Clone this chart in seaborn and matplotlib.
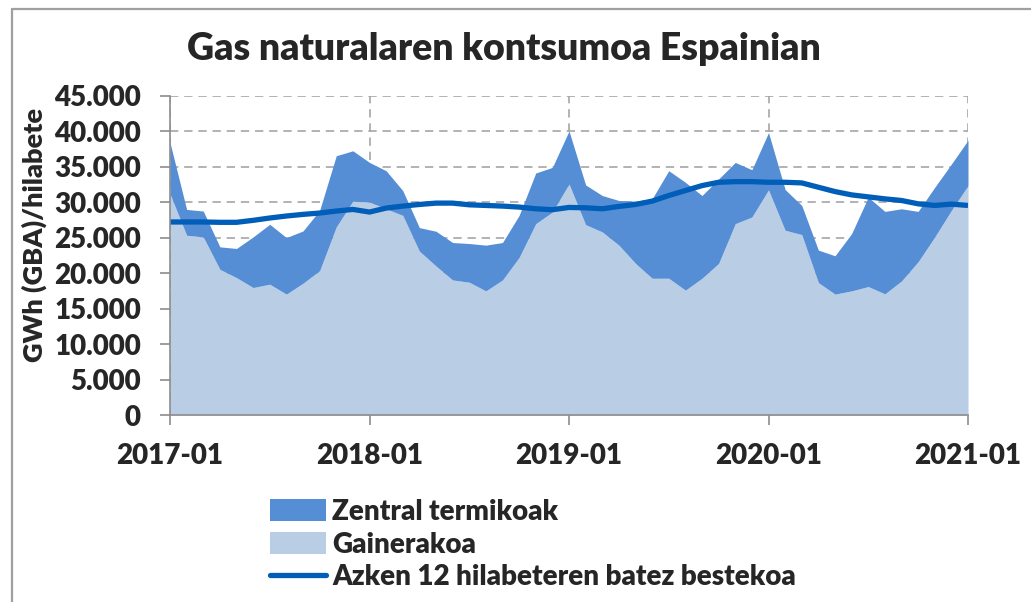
import numpy as np
import pandas as pd
import matplotlib
matplotlib.use("Agg")
import matplotlib.pyplot as plt
import seaborn as sns
from matplotlib.patches import Patch
from matplotlib.lines import Line2D

# ---- data (GWh per month), 2017-01 .. 2021-01 ----
months = pd.date_range("2017-01-01", "2021-01-01", freq="MS").strftime("%Y-%m").tolist()
gainerakoa = [31200, 25360, 25120, 20550, 19380, 17980, 18450, 17050, 18590, 20360, 26530, 30170,
              30030, 29090, 28160, 23120, 21020, 19050, 18730, 17510, 19050, 22230, 26990, 28630,
              32600, 26850, 25830, 23960, 21390, 19290, 19290, 17610, 19290, 21390, 26990, 27930,
              31760, 26060, 25450, 18680, 17050, 17510, 18120, 17090, 18910, 21620, 25120, 28860,
              32360]
termikoak = [7230, 3640, 3650, 3170, 4110, 7140, 8450, 7980, 7370, 8500, 10040, 7100,
             5600, 5370, 3500, 3310, 4900, 5280, 5460, 6450, 5280, 5930, 7150, 6300,
             7470, 5610, 5130, 6300, 8780, 11210, 15170, 15220, 11670, 11910, 8640, 6670,
             8080, 5740, 4110, 4580, 5410, 8080, 12610, 11630, 10180, 7100, 7010, 6540,
             6400]
batezbestekoa = [27230, 27230, 27230, 27180, 27180, 27460, 27790, 28070, 28300, 28490, 28770, 29000,
                 28630, 29190, 29470, 29700, 29890, 29890, 29650, 29560, 29470, 29330, 29090, 28960,
                 29280, 29230, 29090, 29420, 29700, 30170, 30960, 31660, 32360, 32830, 32920, 32920,
                 32830, 32830, 32740, 32130, 31520, 31050, 30770, 30490, 30260, 29790, 29560, 29750,
                 29560]
tick_labels = ["2017-01", "2018-01", "2019-01", "2020-01", "2021-01"]
y_ticks = [0, 5000, 10000, 15000, 20000, 25000, 30000, 35000, 40000, 45000]

title = "Gas naturalaren kontsumoa Espainian"
ylabel = "GWh (GBA)/hilabete"
lbl_term = "Zentral termikoak"
lbl_gain = "Gainerakoa"
lbl_avg = "Azken 12 hilabeteren batez bestekoa"

df = pd.DataFrame({"month": months, "idx": np.arange(len(months)),
                   "gain": gainerakoa, "term": termikoak, "avg": batezbestekoa})
df["total"] = df["gain"] + df["term"]

c_light = "#B9CDE5"
c_dark = "#558ED5"
c_line = "#005EB8"
c_grid = "#A6A6A6"
W = "heavy"

sns.set_theme(style="white")
plt.rcParams["font.family"] = ["Lato", "DejaVu Sans"]
plt.rcParams["font.weight"] = W

fig = plt.figure(figsize=(10.31, 6.02), dpi=100)
ax = fig.add_axes([170/1031, 1-415/602, (968-170)/1031, (415-96)/602])

ax.fill_between(df["idx"], 0, df["gain"], color=c_light, linewidth=0, zorder=2)
ax.fill_between(df["idx"], df["gain"], df["total"], color=c_dark, linewidth=0, zorder=2)
sns.lineplot(data=df, x="idx", y="avg", ax=ax, color=c_line, linewidth=3.8, zorder=3,
             solid_capstyle="butt", legend=False)

ax.set_xlim(0, 48)
ax.set_ylim(0, 45000)
ax.set_xticks([0, 12, 24, 36, 48])
ax.set_xticklabels(tick_labels)
ax.set_yticks(y_ticks)
ax.set_yticklabels([f"{v:,}".replace(",", ".") for v in y_ticks])
ax.set_xlabel("")
ax.set_ylabel(ylabel, fontsize=19.5, fontweight=W)
ax.yaxis.set_label_coords(-0.154, 0.565)
for lab in ax.get_xticklabels() + ax.get_yticklabels():
    lab.set_fontweight(W)
ax.tick_params(axis="both", which="major", labelsize=20, length=7, width=1.2,
               color="#8C8C8C", direction="out", left=True, bottom=True)
ax.tick_params(axis="y", pad=14)
ax.tick_params(axis="x", pad=13)

ax.set_axisbelow(True)
ax.grid(True, axis="both", linestyle=(0, (5, 3.5)), color=c_grid, linewidth=1.2)
for s in ["top", "right"]:
    ax.spines[s].set_visible(False)
for s in ["left", "bottom"]:
    ax.spines[s].set_color("#8C8C8C")
    ax.spines[s].set_linewidth(1.2)
    ax.spines[s].set_zorder(4)

fig.text(0.489, 1-49/602, title, ha="center", va="center", fontsize=26.9, fontweight=W)

handles = [Patch(facecolor=c_dark, edgecolor="none"),
           Patch(facecolor=c_light, edgecolor="none"),
           Line2D([0], [0], color=c_line, linewidth=3.8)]
fig.legend(handles, [lbl_term, lbl_gain, lbl_avg], loc="upper left",
           bbox_to_anchor=(270/1031, 1-499/602), frameon=False, fontsize=20,
           handlelength=2.0, handleheight=0.85, handletextpad=0.25, labelspacing=0.24,
           borderaxespad=0, borderpad=0)

# chart frame (top and left edges visible)
fig.add_artist(Line2D([12/1031, 12/1031], [0, 1-9/602], transform=fig.transFigure,
                      color="#A0A0A0", linewidth=1.6))
fig.add_artist(Line2D([12/1031, 1], [1-9/602, 1-9/602], transform=fig.transFigure,
                      color="#A0A0A0", linewidth=1.6))

fig.savefig("out.png", dpi=100)
